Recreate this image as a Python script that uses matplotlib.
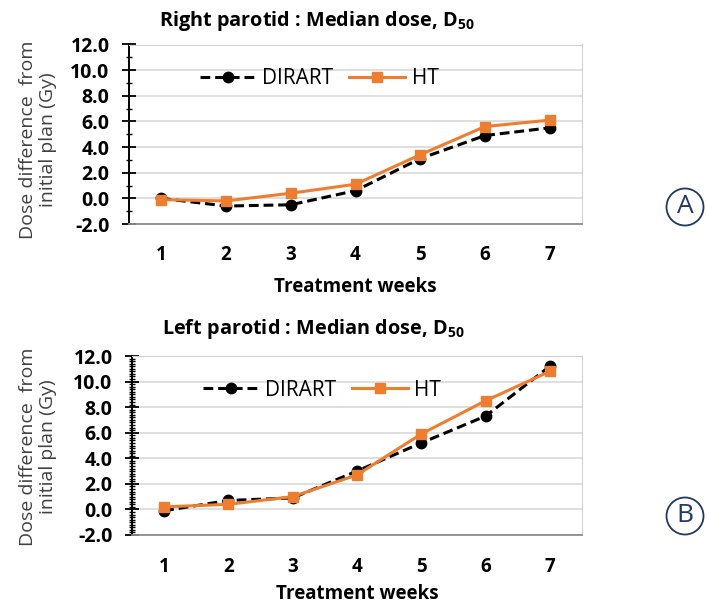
import numpy as np
import matplotlib
matplotlib.use("Agg")
import matplotlib.pyplot as plt
from matplotlib.patches import Ellipse
from matplotlib.ticker import MultipleLocator

plt.rcParams['font.family'] = ['Open Sans', 'DejaVu Sans']
plt.rcParams['mathtext.fontset'] = 'custom'
plt.rcParams['mathtext.rm'] = 'Open Sans:bold'
plt.rcParams['mathtext.bf'] = 'Open Sans:bold'

weeks = [1, 2, 3, 4, 5, 6, 7]
week_labels = ["1", "2", "3", "4", "5", "6", "7"]

# Right parotid
right_dirart = [0.0, -0.6, -0.5, 0.6, 3.1, 4.9, 5.5]
right_ht = [-0.1, -0.2, 0.4, 1.1, 3.4, 5.6, 6.1]

# Left parotid
left_dirart = [-0.1, 0.7, 0.9, 3.0, 5.2, 7.3, 11.2]
left_ht = [0.2, 0.4, 1.0, 2.7, 5.9, 8.5, 10.8]

W, H = 707, 609
fig = plt.figure(figsize=(W / 100, H / 100), dpi=100)

orange = '#ED7D31'
navy = '#1F3864'


def panel(rect, dirart, ht, title, title_xy, minor_step, leg_y, xpad, lpad):
    ax = fig.add_axes(rect)
    x = np.array(weeks)
    ax.plot(x, dirart, color='black', ls=(0, (3.2, 1.6)), lw=2.2,
            marker='o', ms=7.5, label='DIRART', zorder=3)
    ax.plot(x, ht, color=orange, lw=2.2, marker='s', ms=7.5,
            label='HT', zorder=4)
    ax.set_xlim(0.5, 7.5)
    ax.set_ylim(-2, 12)
    ax.set_xticks(x)
    ax.set_xticklabels(week_labels)
    ax.set_yticks(np.arange(-2, 12.1, 2))
    ax.set_yticklabels([f"{v:.1f}" for v in np.arange(-2, 12.1, 2)])
    ax.yaxis.set_minor_locator(MultipleLocator(minor_step))
    ax.grid(axis='y', color='#d9d9d9', lw=1.2)
    ax.set_axisbelow(True)
    ax.tick_params(axis='x', length=0, pad=xpad, labelsize=13.5)
    ax.tick_params(axis='y', which='major', direction='inout', length=10,
                   width=1.3, labelsize=14, pad=9)
    ax.tick_params(axis='y', which='minor', direction='inout', length=5,
                   width=1.0)
    for lab in ax.get_xticklabels() + ax.get_yticklabels():
        lab.set_fontweight('bold')
    ax.spines['left'].set_color('black')
    ax.spines['left'].set_linewidth(1.4)
    ax.spines['bottom'].set_color('#8c8c8c')
    ax.spines['bottom'].set_linewidth(1.3)
    ax.spines['top'].set_color('#d0d0d0')
    ax.spines['right'].set_color('#d0d0d0')
    ax.set_xlabel('Treatment weeks', fontsize=13.5, fontweight='bold',
                  labelpad=lpad)
    ax.legend(loc='center left', bbox_to_anchor=(0.115, leg_y), ncol=2,
              frameon=False, fontsize=15, handlelength=2.7,
              handletextpad=0.3, columnspacing=0.75)
    fig.text(title_xy[0] / W, 1 - title_xy[1] / H, title, fontsize=14.3,
             fontweight='bold', ha='center', va='center')
    return ax


ax1 = panel([129 / W, 1 - 224 / H, 453 / W, 179.5 / H],
            right_dirart, right_ht,
            r"Right parotid : Median dose, D$_{\mathbf{50}}$", (317, 21),
            1.0, 0.81, 15, 9)
ax2 = panel([132 / W, 1 - 535 / H, 450 / W, 179 / H],
            left_dirart, left_ht,
            r"Left parotid : Median dose, D$_{\mathbf{50}}$", (313, 329),
            0.2, 0.81, 16, 5)

ylab = "Dose difference  from\ninitial plan (Gy)"
fig.text(38 / W, 1 - 140 / H, ylab, rotation=90, ha='center', va='center',
         fontsize=14, color='#404040', linespacing=1.1)
fig.text(38 / W, 1 - 447 / H, ylab, rotation=90, ha='center', va='center',
         fontsize=14, color='#404040', linespacing=1.1)

# circled panel letters
for letter, cy in [("A", 207), ("B", 516)]:
    fig.patches.append(Ellipse((685 / W, 1 - cy / H), 37 / W, 37 / H,
                               transform=fig.transFigure, fill=False,
                               edgecolor=navy, lw=1.3))
    fig.text(685 / W, 1 - cy / H, letter, ha='center', va='center',
             fontsize=19, color=navy, family=['Open Sans', 'DejaVu Sans'])

fig.savefig('out.png', dpi=100)
